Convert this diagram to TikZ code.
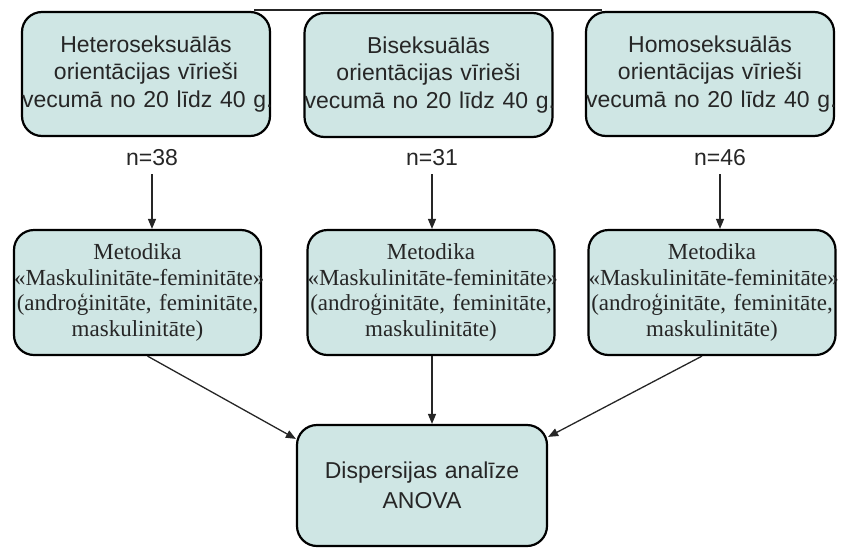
\documentclass[tikz,border=0pt]{standalone}
\usepackage{fontspec}
\setmainfont{Liberation Sans}
\newfontfamily\serifx{Liberation Serif}
\usetikzlibrary{arrows.meta}
\definecolor{boxfill}{HTML}{CFE6E4}
\definecolor{txt}{HTML}{262626}
\begin{document}
\begin{tikzpicture}[x=1pt,y=-1pt,
  box/.style={draw=black, line width=2.2pt, fill=boxfill, rounded corners=20pt,
    inner sep=0pt, align=center, text=txt},
  topbox/.style={box, text width=248pt, minimum height=124pt,
    font=\fontsize{23}{27.5}\selectfont},
  midbox/.style={box, text width=247pt, minimum height=125pt,
    font=\serifx\fontsize{23}{25.5}\selectfont},
  botbox/.style={box, text width=250pt, minimum height=121pt,
    font=\fontsize{23}{30}\selectfont},
  nlabel/.style={font=\fontsize{23}{27}\selectfont, text=txt, inner sep=2pt},
  conn/.style={line width=1.3pt, draw=txt},
  arr/.style={conn, -{Triangle[length=10pt,width=8pt]}}
]
\useasboundingbox (0,0) rectangle (842,549);

% top row
\node[topbox] (t1) at (146,74) {Heteroseksuālās\\\mbox{orientācijas vīrieši}\\\mbox{vecumā no 20 līdz 40 g.}};
\node[topbox] (t2) at (428.5,75) {Biseksuālās\\\mbox{orientācijas vīrieši}\\\mbox{vecumā no 20 līdz 40 g.}};
\node[topbox] (t3) at (710,74) {Homoseksuālās\\\mbox{orientācijas vīrieši}\\\mbox{vecumā no 20 līdz 40 g.}};

\draw[conn] ([xshift=-17pt,yshift=1pt]t1.north east) -- ([xshift=17pt,yshift=1pt]t3.north west);

% n labels
\node[nlabel] (n1) at (152,158) {n=38};
\node[nlabel] (n2) at (432,158) {n=31};
\node[nlabel] (n3) at (720,158) {n=46};

% middle row
\node[midbox] (m1) at (137.5,292.5) {Metodika\\\mbox{«Maskulinitāte-feminitāte»}\\\mbox{(androģinitāte, feminitāte,}\\maskulinitāte)};
\node[midbox] (m2) at (431,292.5) {Metodika\\\mbox{«Maskulinitāte-feminitāte»}\\\mbox{(androģinitāte, feminitāte,}\\maskulinitāte)};
\node[midbox] (m3) at (712,292.5) {Metodika\\\mbox{«Maskulinitāte-feminitāte»}\\\mbox{(androģinitāte, feminitāte,}\\maskulinitāte)};

% bottom
\node[botbox] (b) at (422,485.5) {Dispersijas analīze\\ANOVA};

% arrows
\draw[arr] ([yshift=-6pt]n1.south) -- (n1.south |- m1.north);
\draw[arr] ([yshift=-6pt]n2.south) -- (n2.south |- m2.north);
\draw[arr] ([yshift=-6pt]n3.south) -- (n3.south |- m3.north);

\draw[arr] ([xshift=10pt]m1.south) -- ([yshift=-15pt]b.north west);
\draw[arr] ([xshift=1pt]m2.south) -- ([xshift=1pt]m2.south |- b.north);
\draw[arr] ([xshift=-10pt]m3.south) -- ([yshift=-13pt]b.north east);
\end{tikzpicture}
\end{document}
